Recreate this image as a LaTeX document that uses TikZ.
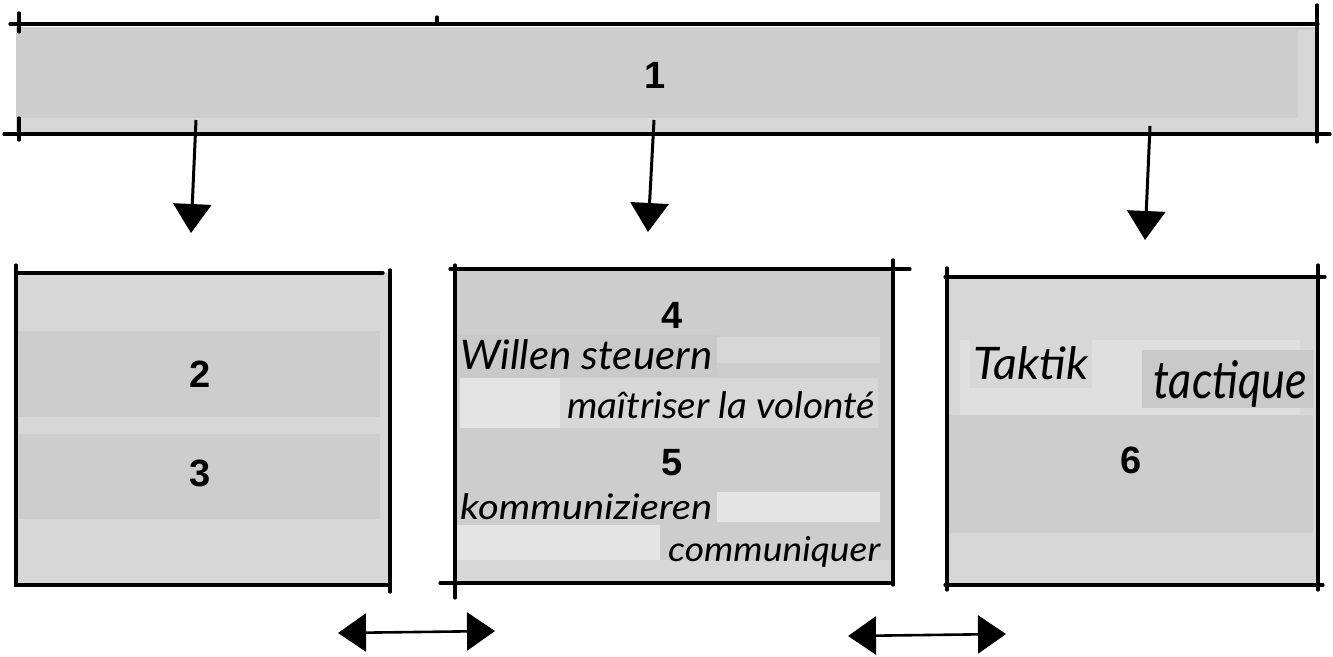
\documentclass[tikz,border=0pt]{standalone}
\usepackage{fontspec}
\usepackage{graphicx}
\setmainfont{Liberation Sans}
\newfontfamily\handfont{Lato}
\usetikzlibrary{arrows.meta}
\definecolor{panel}{HTML}{CDCDCD}
\definecolor{panellight}{HTML}{D7D7D7}
\definecolor{panelpale}{HTML}{E4E4E4}
\definecolor{paneldark}{HTML}{C9C9C9}
\tikzset{
  num/.style={font=\fontsize{38}{42}\selectfont\bfseries, inner sep=0pt},
  hand/.style={font=\handfont\itshape\fontsize{40}{44}\selectfont, inner sep=0pt, anchor=base west},
  edge/.style={line width=3.2pt, line cap=round},
  flow/.style={line width=3pt, -{Triangle[width=38pt,length=29pt]}},
  swap/.style={line width=2.6pt, {Triangle[width=38pt,length=28pt]}-{Triangle[width=38pt,length=28pt]}}
}
\begin{document}
\begin{tikzpicture}[x=1pt,y=-1pt]
\useasboundingbox (0,0) rectangle (1333,656);
\fill[white] (0,0) rectangle (1333,656);

% ---- top bar ----
\fill[panel] (16,27) rectangle (1318,132);
\fill[panellight] (16,118) rectangle (1318,132);
\fill[panellight] (1298,30) rectangle (1318,132);
\node[num] (n1) at (655,75) {1};
\draw[edge] (10,24) -- (1318,24);
\draw[edge] (4,134) -- (1330,134);
\draw[edge] (19,13) -- (19,32);
\draw[edge] (19,118) -- (19,140);
\draw[edge] (437,17) -- (437,24);
\draw[edge] (1317,5) -- (1317,142);

% ---- left box ----
\fill[panellight] (16,273) rectangle (390,585);
\fill[panel] (16,331) rectangle (380,417);
\fill[panel] (16,434) rectangle (380,519);
\node[num] (n2) at (200,374) {2};
\node[num] (n3) at (200,473) {3};
\draw[edge] (16,265) -- (16,585) -- (390,585);
\draw[edge] (16,273) -- (383,273);
\draw[edge] (390,270) -- (390,592);

% ---- middle box ----
\fill[panel] (455,269) rectangle (893,583);
\fill[paneldark] (458,335) rectangle (717,377);
\fill[panellight] (717,337) rectangle (880,363);
\fill[panelpale] (460,378) rectangle (560,428);
\fill[panellight] (560,378) rectangle (878,428);
\fill[panel] (455,487) rectangle (717,525);
\fill[panelpale] (717,492) rectangle (880,522);
\fill[panelpale] (455,525) rectangle (660,560);
\fill[panellight] (455,560) rectangle (893,583);
\node[num] (n4) at (672,315) {4};
\node[num] (n5) at (672,463) {5};
\node[hand] (w1) at (460,369) {\resizebox{252pt}{30pt}{Willen steuern}};
\node[hand] (w2) at (567,418) {\resizebox{308pt}{27pt}{maîtriser la volonté}};
\node[hand] (w3) at (460,519) {\resizebox{252pt}{26pt}{kommunizieren}};
\node[hand] (w4) at (668,561) {\resizebox{212pt}{25pt}{communiquer}};
\draw[edge] (450,269) -- (910,269);
\draw[edge] (455,265) -- (455,598);
\draw[edge] (893,260) -- (893,585);
\draw[edge] (440,583) -- (890,583);

% ---- right box ----
\fill[panellight] (947,277) rectangle (1318,585);
\fill[panelpale!60!panellight] (960,340) rectangle (1300,415);
\fill[panellight] (970,340) rectangle (1092,388);
\fill[paneldark] (1142,350) rectangle (1313,408);
\fill[panel] (947,415) rectangle (1313,533);
\node[num] (n6) at (1131,460) {6};
\node[hand] (t1) at (973,379) {\resizebox{115pt}{33pt}{Taktik}};
\node[hand] (t2) at (1153,398) {\resizebox{154pt}{38pt}{tactique}};
\draw[edge] (945,277) -- (1325,277);
\draw[edge] (947,268) -- (947,590);
\draw[edge] (1318,265) -- (1318,590);
\draw[edge] (945,585) -- (1323,585);

% ---- connectors ----
\coordinate (d1s) at (196,120);
\coordinate (d1e) at (191,233);
\coordinate (d2s) at (654,120);
\coordinate (d2e) at (648,232);
\coordinate (d3s) at (1150,126);
\coordinate (d3e) at (1145,240);
\draw[flow] (d1s) -- (d1e);
\draw[flow] (d2s) -- (d2e);
\draw[flow] (d3s) -- (d3e);

\coordinate (s1a) at (338,633);
\coordinate (s1b) at (495,631);
\coordinate (s2a) at (848,636);
\coordinate (s2b) at (1006,634);
\draw[swap] (s1a) -- (s1b);
\draw[swap] (s2a) -- (s2b);
\end{tikzpicture}
\end{document}
